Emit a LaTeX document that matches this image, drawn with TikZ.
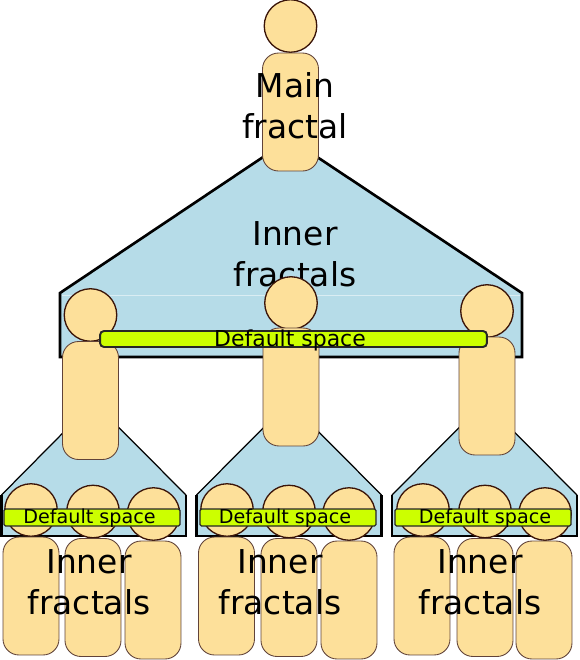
\documentclass[tikz,border=0pt]{standalone}
\usepackage{fontspec}
\setmainfont{DejaVu Sans}
\usepackage{tikz}
\usetikzlibrary{positioning}
\definecolor{skyfill}{HTML}{B6DCE8}
\definecolor{sandfill}{HTML}{FDE09A}
\definecolor{limefill}{HTML}{CCFF00}
\definecolor{sandline}{HTML}{3A1408}

\begin{document}
\begin{tikzpicture}[
    x=0.02cm, y=-0.02cm,
    head/.style={circle, draw=sandline, fill=sandfill, line width=0.75pt, minimum size=1.05cm, inner sep=0pt},
    body/.style={rectangle, rounded corners=0.32cm, draw=sandline!80, fill=sandfill, line width=0.5pt, minimum width=1.12cm, minimum height=2.36cm, inner sep=0pt},
    bigbar/.style={rectangle, rounded corners=0.08cm, draw=black!85, fill=limefill, line width=1.1pt, minimum width=7.74cm, minimum height=0.32cm, inner sep=0pt},
    smallbar/.style={rectangle, rounded corners=0.03cm, draw=black!85, fill=limefill, line width=0.75pt, minimum width=3.52cm, minimum height=0.34cm, inner sep=0pt},
    skyshape/.style={fill=skyfill, draw=none},
    edge/.style={line join=miter},
    bigtext/.style={font=\fontsize{18.7}{23.2}\selectfont, align=center},
    bartext/.style={font=\fontsize{12.5}{15}\selectfont},
    subtext/.style={font=\fontsize{10.9}{13}\selectfont}
]
\useasboundingbox (0,0) rectangle (579,660);

% Main polygon
\draw [skyshape] (60,293) -- (290,139) -- (522,293) -- (522,357) -- (60,357) -- cycle;
\draw [edge, line width=1.5pt] (60,293) -- (290,139) -- (522,293) -- (522,357) -- (60,357) -- cycle;
\draw [white, opacity=0.5, line width=0.4pt] (62,295) -- (520,295);

% Main fractal
\node at (290.5,26) [head] (mainhead) {};
\node at (290.5,112) [body] (mainbody) {};
\node at (295,106) [bigtext] (maintext) {Main\\fractal};
\node at (295,254.5) [bigtext] (innertext) {Inner\\fractals};

% Left sub polygon
\fill [skyfill] (1.5,495) -- (93.5,402) -- (186,495) -- (186,536) -- (1.5,536) -- cycle;
\draw [edge, line width=0.7pt] (1.5,495) -- (93.5,402) -- (186,495);
\draw [edge, line width=1.3pt] (186,495) -- (186,536) -- (1.5,536) -- (1.5,495);

% Middle sub polygon
\fill [skyfill] (196.5,495) -- (289,402) -- (381.5,495) -- (381.5,536) -- (196.5,536) -- cycle;
\draw [edge, line width=0.7pt] (196.5,495) -- (289,402) -- (381.5,495);
\draw [edge, line width=1.3pt] (381.5,495) -- (381.5,536) -- (196.5,536) -- (196.5,495);

% Right sub polygon
\fill [skyfill] (392,495) -- (484.5,402) -- (577,495) -- (577,536) -- (392,536) -- cycle;
\draw [edge, line width=0.7pt] (392,495) -- (484.5,402) -- (577,495);
\draw [edge, line width=1.3pt] (577,495) -- (577,536) -- (392,536) -- (392,495);

% Inner fractals of the main polygon
\node at (90.5,315) [head] (lefthead) {};
\node at (291,303) [head] (midhead) {};
\node at (487,311) [head] (righthead) {};
\node at (90.5,400.5) [body] (leftbody) {};
\node at (291,387) [body] (midbody) {};
\node at (487,396) [body] (rightbody) {};

% Default space of the main polygon
\node at (293.5,339) [bigbar] (mainbar) {};
\node at (290,340) [bartext] {Default space};

% Left group
\node at (31,510) [head] (leftheada) {};
\node at (93,511.5) [head] (leftheadb) {};
\node at (153.5,514) [head] (leftheadc) {};
\node at (31,596) [body] (leftboxa) {};
\node at (93,597.5) [body] (leftboxb) {};
\node at (153,600) [body] (leftboxc) {};
\node at (92,517.5) [smallbar] (leftbar) {};
\node at (89.5,518.5) [subtext] {Default space};
\node at (89,582.5) [bigtext] {Inner\\fractals};

% Middle group
\node at (227,510) [head] (midheada) {};
\node at (289,511.5) [head] (midheadb) {};
\node at (349,514) [head] (midheadc) {};
\node at (226.5,596) [body] (midboxa) {};
\node at (289,597.5) [body] (midboxb) {};
\node at (349,600) [body] (midboxc) {};
\node at (288,517.5) [smallbar] (midbar) {};
\node at (285,518.5) [subtext] {Default space};
\node at (280,582.5) [bigtext] {Inner\\fractals};

% Right group
\node at (423,510) [head] (rightheada) {};
\node at (485,511.5) [head] (rightheadb) {};
\node at (545,514) [head] (rightheadc) {};
\node at (422,596) [body] (rightboxa) {};
\node at (485,597.5) [body] (rightboxb) {};
\node at (544,600) [body] (rightboxc) {};
\node at (483,517.5) [smallbar] (rightbar) {};
\node at (485,518.5) [subtext] {Default space};
\node at (480,582.5) [bigtext] {Inner\\fractals};

\end{tikzpicture}
\end{document}
